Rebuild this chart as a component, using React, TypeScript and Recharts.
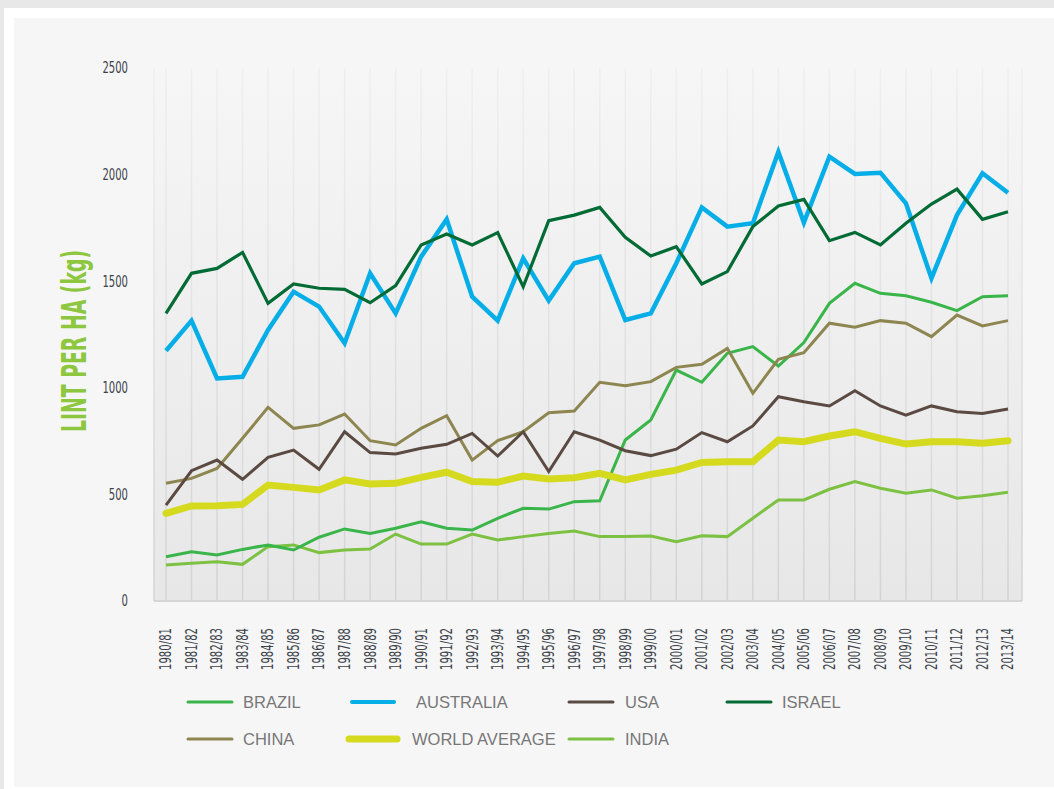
import React from "react";
import { LineChart, Line, XAxis, YAxis, CartesianGrid } from "recharts";

const seasons = [
  "1980/81", "1981/82", "1982/83", "1983/84", "1984/85", "1985/86", "1986/87", "1987/88",
  "1988/89", "1989/90", "1990/91", "1991/92", "1992/93", "1993/94", "1994/95", "1995/96",
  "1996/97", "1997/98", "1998/99", "1999/00", "2000/01", "2001/02", "2002/03", "2003/04",
  "2004/05", "2005/06", "2006/07", "2007/08", "2008/09", "2009/10", "2010/11", "2011/12",
  "2012/13", "2013/14",
];

const brazil = [208, 231, 216, 242, 263, 239, 299, 338, 317, 341, 372, 341, 333, 388, 435, 431, 466, 470, 755, 849, 1083, 1026, 1162, 1193, 1102, 1212, 1396, 1490, 1443, 1432, 1401, 1362, 1427, 1432];
const australia = [1174, 1315, 1044, 1052, 1271, 1451, 1381, 1209, 1537, 1349, 1615, 1790, 1427, 1315, 1607, 1409, 1584, 1615, 1318, 1349, 1584, 1846, 1756, 1772, 2106, 1775, 2084, 2003, 2009, 1865, 1514, 1810, 2006, 1915];
const usa = [450, 611, 661, 571, 674, 708, 618, 794, 696, 690, 716, 735, 786, 680, 794, 607, 794, 755, 705, 682, 712, 790, 747, 821, 958, 935, 915, 986, 915, 872, 915, 888, 880, 901];
const israel = [1349, 1537, 1560, 1635, 1396, 1487, 1467, 1462, 1399, 1479, 1670, 1721, 1670, 1728, 1474, 1784, 1810, 1846, 1706, 1618, 1662, 1487, 1545, 1756, 1853, 1884, 1690, 1729, 1670, 1772, 1862, 1932, 1790, 1826];
const china = [552, 575, 622, 763, 908, 810, 826, 877, 752, 732, 810, 869, 661, 752, 794, 883, 891, 1026, 1010, 1029, 1096, 1110, 1185, 974, 1134, 1165, 1303, 1284, 1315, 1303, 1240, 1341, 1290, 1315];
const worldAverage = [411, 446, 447, 453, 544, 533, 521, 568, 549, 552, 580, 604, 560, 557, 586, 572, 578, 599, 568, 594, 614, 650, 653, 653, 755, 747, 774, 794, 763, 736, 747, 747, 740, 752];
const india = [169, 177, 184, 172, 255, 263, 227, 239, 244, 314, 267, 267, 314, 286, 302, 317, 328, 302, 302, 305, 278, 306, 302, 388, 474, 474, 524, 560, 529, 505, 521, 482, 494, 510];

const yTicks = [0, 500, 1000, 1500, 2000, 2500];

const data = seasons.map((season, i) => ({
  season,
  brazil: brazil[i],
  australia: australia[i],
  usa: usa[i],
  israel: israel[i],
  china: china[i],
  world: worldAverage[i],
  india: india[i],
}));

// draw order: bottom first
const series = [
  { key: "india", name: "INDIA", color: "#7cc142", width: 3 },
  { key: "brazil", name: "BRAZIL", color: "#39b54a", width: 3 },
  { key: "china", name: "CHINA", color: "#8e8650", width: 3 },
  { key: "usa", name: "USA", color: "#5a4a42", width: 3 },
  { key: "world", name: "WORLD AVERAGE", color: "#d5da1f", width: 7 },
  { key: "australia", name: "AUSTRALIA", color: "#06aee8", width: 4.5 },
  { key: "israel", name: "ISRAEL", color: "#006b34", width: 3.2 },
];

const legendRows = [
  [
    { key: "brazil", line: [188, 232], text: 243 },
    { key: "australia", line: [352, 394], text: 416 },
    { key: "usa", line: [569, 613], text: 625 },
    { key: "israel", line: [727, 771], text: 782 },
  ],
  [
    { key: "china", line: [188, 232], text: 243 },
    { key: "world", line: [349, 397], text: 412 },
    { key: "india", line: [569, 613], text: 625 },
  ],
];

const condensed = "'DejaVu Sans Condensed', sans-serif";

const SeasonTick = (props: any) => {
  const { x, y, payload } = props;
  return (
    <g transform={`translate(${x},${y})`}>
      <text
        transform="rotate(-90)"
        x={-27}
        y={0}
        dy="0.36em"
        textAnchor="end"
        fill="#3c424a"
        fontSize={15}
        fontFamily={condensed}
        textLength={42}
        lengthAdjust="spacingAndGlyphs"
      >
        {payload.value}
      </text>
    </g>
  );
};

const ValueTick = (props: any) => {
  const { x, y, payload } = props;
  const label = String(payload.value);
  return (
    <text
      x={x}
      y={y}
      dy="0.36em"
      textAnchor="end"
      fill="#3c424a"
      fontSize={15}
      fontFamily={condensed}
      textLength={label.length * 6.4}
      lengthAdjust="spacingAndGlyphs"
    >
      {label}
    </text>
  );
};

const AxisTitle = () => (
  <text
    transform="translate(86,341) rotate(-90)"
    textAnchor="middle"
    fill="#8dc63f"
    fontSize={33}
    fontWeight="bold"
    fontFamily={condensed}
    textLength={182}
    lengthAdjust="spacingAndGlyphs"
  >
    LINT PER HA (kg)
  </text>
);

export default function App() {
  return (
    <div style={{ position: "absolute", left: 0, top: 0, width: 1054, height: 789, background: "#e8e8e8", overflow: "hidden" }}>
      <div style={{ position: "absolute", left: 4, top: 8, right: 0, bottom: 0, background: "#ffffff" }} />
      <div style={{ position: "absolute", left: 14, top: 18, right: 0, bottom: 2, background: "#f6f6f6" }} />
      <div style={{ position: "absolute", left: 0, top: 0 }}>
        <LineChart width={1054} height={789} data={data} margin={{ top: 68, right: 32, bottom: 128, left: 94 }}>
          <defs>
            <linearGradient id="plotBg" x1="0" y1="0" x2="0" y2="1">
              <stop offset="0%" stopColor="#f6f6f6" />
              <stop offset="100%" stopColor="#e7e7e7" />
            </linearGradient>
            <linearGradient id="gridFade" gradientUnits="userSpaceOnUse" x1="0" y1="68" x2="0" y2="601">
              <stop offset="0%" stopColor="#efefef" />
              <stop offset="100%" stopColor="#d3d3d3" />
            </linearGradient>
          </defs>
          <CartesianGrid horizontal={false} stroke="url(#gridFade)" strokeWidth={1.5} fill="url(#plotBg)" />
          <XAxis
            dataKey="season"
            interval={0}
            padding={{ left: 12, right: 14 }}
            height={60}
            tickLine={false}
            tickSize={0}
            tickMargin={0}
            axisLine={{ stroke: "#d6d6d6", strokeWidth: 2 }}
            tick={<SeasonTick />}
          />
          <YAxis
            width={60}
            domain={[0, 2500]}
            ticks={yTicks}
            axisLine={false}
            tickLine={false}
            tickSize={0}
            tickMargin={26}
            tick={<ValueTick />}
            label={{ content: () => <AxisTitle /> }}
          />
          {series.map((s) => (
            <Line
              key={s.key}
              type="linear"
              dataKey={s.key}
              name={s.name}
              stroke={s.color}
              strokeWidth={s.width}
              strokeLinecap={s.key === "world" ? "round" : "butt"}
              strokeLinejoin="miter"
              dot={false}
              activeDot={false}
              isAnimationActive={false}
            />
          ))}
        </LineChart>
      </div>
      <svg width={1054} height={789} style={{ position: "absolute", left: 0, top: 0, pointerEvents: "none" }}>
        {legendRows.map((row, r) =>
          row.map((item) => {
            const s = series.find((q) => q.key === item.key)!;
            const y = r === 0 ? 702 : 739;
            return (
              <g key={item.key}>
                <line
                  x1={item.line[0]}
                  x2={item.line[1]}
                  y1={y}
                  y2={y}
                  stroke={s.color}
                  strokeWidth={s.key === "world" ? 7 : s.key === "australia" ? 4 : 3}
                  strokeLinecap="round"
                />
                <text x={item.text} y={y} dy="0.36em" fill="#777777" fontSize={16.5} fontFamily="'Liberation Sans', Arial, sans-serif">
                  {s.name}
                </text>
              </g>
            );
          })
        )}
      </svg>
    </div>
  );
}
